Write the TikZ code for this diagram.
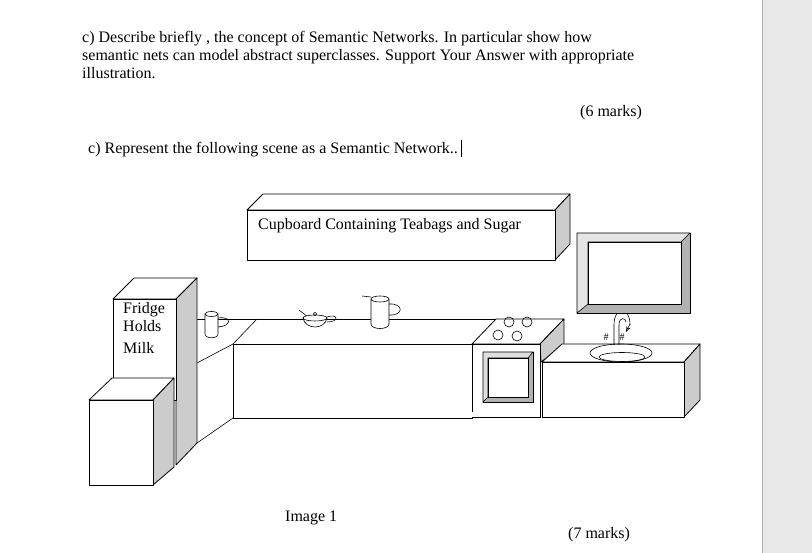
\documentclass[tikz,border=0pt]{standalone}
\usepackage{fontspec}
\setmainfont{Liberation Serif}
\usetikzlibrary{arrows.meta}

\tikzset{
  txt/.style={anchor=base west, inner sep=0pt, font=\fontsize{16}{18}\selectfont},
  box/.style={draw, fill=white, line width=0.8pt, line join=round},
  side/.style={draw, fill=gray!40, line width=0.8pt, line join=round},
  dark/.style={draw, fill=gray!60, line width=0.6pt},
  thin/.style={draw, line width=0.6pt}
}

\begin{document}
\begin{tikzpicture}[x=1pt, y=-1pt]
    % page and grey margin
    \useasboundingbox (0,0) rectangle (812,553);
    \fill[gray!18] (762,0) rectangle (812,553);
    \draw[gray!60] (762,0) -- (762,553);

    % question texts
    \node[txt] (q1) at (82,43) {c) Describe briefly , the concept of Semantic Networks. In particular show how};
    \node[txt] (q2) at (82,61) {semantic nets can model abstract superclasses. Support Your Answer with appropriate};
    \node[txt] (q3) at (82,79) {illustration.};
    \node[txt] (m6) at (580,117) {(6 marks)};
    \node[txt] (q4) at (88,154) {c) Represent the following scene as a Semantic Network..};
    \draw (q4.base east) ++(3,3) -- ++(0,-17);

    % cupboard
    \path[box] (247,210) -- (263,194) -- (570,194) -- (555,210) -- cycle;
    \path[side] (555,210) -- (570,194) -- (570,244) -- (555,260) -- cycle;
    \path[box] (247,210) rectangle (555,260);
    \node[txt] (cup) at (258,230) {Cupboard Containing Teabags and Sugar};

    % back edge of the counter and left wall
    \draw[thin] (197,319) -- (564,319);
    \draw[thin] (257,319) -- (233,344);
    \draw[thin] (197,363) -- (233,344);
    \draw[thin] (197,443) -- (233,418);

    % tall fridge
    \path[box] (113,299) -- (134,278) -- (197,278) -- (176,299) -- cycle;
    \path[side] (176,299) -- (197,278) -- (197,443) -- (176,465) -- cycle;
    \path[box] (113,299) rectangle (176,400);
    \node[txt] (f1) at (123,314) {Fridge};
    \node[txt] (f2) at (123,332) {Holds};
    \node[txt] (f3) at (123,354) {Milk};

    % small box in front of the fridge
    \path[box] (89,400) -- (112,378) -- (174,378) -- (153,400) -- cycle;
    \path[side] (153,400) -- (174,378) -- (174,467) -- (153,485) -- cycle;
    \path[box] (89,400) rectangle (153,485);

    % counter
    \path[box] (233,344) rectangle (472,418);

    % oven
    \path[box] (472,344) -- (496,319) -- (564,319) -- (540,344) -- cycle;
    \path[side] (540,344) -- (564,319) -- (564,345) -- (541,362) -- cycle;
    \fill[white] (472,344) rectangle (540,417);
    \draw[line width=0.8pt] (472,412) -- (472,344) -- (540,344) -- (540,417) -- (472,417);
    \foreach \cx/\cy in {509/322, 527/322, 498/335, 517/336}
        \draw[thin] (\cx,\cy) circle (5);
    \path[dark] (483,352) rectangle (533,402);
    \path[draw, fill=gray!25, line width=0.6pt] (483,352) -- (533,352) -- (528,358) -- (488,358) -- (488,397) -- (483,402) -- cycle;
    \path[draw, fill=white, line width=0.6pt] (488,358) rectangle (528,397);

    % sink unit
    \path[box] (542,362) -- (562,344) -- (700,344) -- (684,362) -- cycle;
    \path[side] (684,362) -- (700,344) -- (700,400) -- (684,417) -- cycle;
    \path[box] (542,362) rectangle (684,417);
    \draw[thin] (621,353) ellipse (31 and 9);
    \draw[thin] (622,357) ellipse (23 and 4.5);
    % tap
    \draw[thin] (614,345) -- (614,325) .. controls (614,306) and (630,306) .. (630,325);
    \draw[thin] (619,345) -- (619,325) .. controls (619,316) and (626,318) .. (626,322);
    \draw[thin, -{Stealth[open]}] (630,324) -- (626,332);
    \foreach \tx in {606,622}
        \node[inner sep=0pt, font=\fontsize{10}{10}\selectfont] (tap\tx) at (\tx,337) {\#};

    % mirror
    \path[dark] (577,233) rectangle (690,313);
    \path[draw, fill=gray!20, line width=0.6pt] (577,233) -- (690,233) -- (681,242) -- (588,242) -- (588,304) -- (577,313) -- cycle;
    \path[draw, fill=white, line width=0.6pt] (588,242) rectangle (681,304);

    % mug
    \draw[thin, fill=white] (205,314) -- (205,334) .. controls (205,339) and (218,339) .. (218,334) -- (218,314);
    \draw[thin, fill=white] (211.5,314) ellipse (6.5 and 2.5);
    \draw[thin] (218,318) .. controls (232,316) and (232,326) .. (218,327);
    % sugar bowl
    \draw[thin] (299,310) -- (308,317);
    \draw[thin, fill=white] (303,318) .. controls (305,330) and (325,330) .. (327,318) -- cycle;
    \draw[thin, fill=white] (315,318) ellipse (12 and 3);
    \draw[thin] (315,314) circle (1.8);
    \draw[thin] (327,317) .. controls (338,313) and (340,322) .. (327,322);
    % jug
    \draw[thin] (362,296) -- (371,297);
    \draw[thin, fill=white] (371,299) -- (371,324) .. controls (371,330) and (389,330) .. (389,324) -- (389,299);
    \draw[thin, fill=white] (380,299) ellipse (9 and 3);
    \draw[thin] (389,304) .. controls (404,303) and (404,316) .. (389,315);

    % captions
    \node[txt] (img) at (285,521) {Image 1};
    \node[txt] (m7) at (568,538) {(7 marks)};
\end{tikzpicture}
\end{document}
